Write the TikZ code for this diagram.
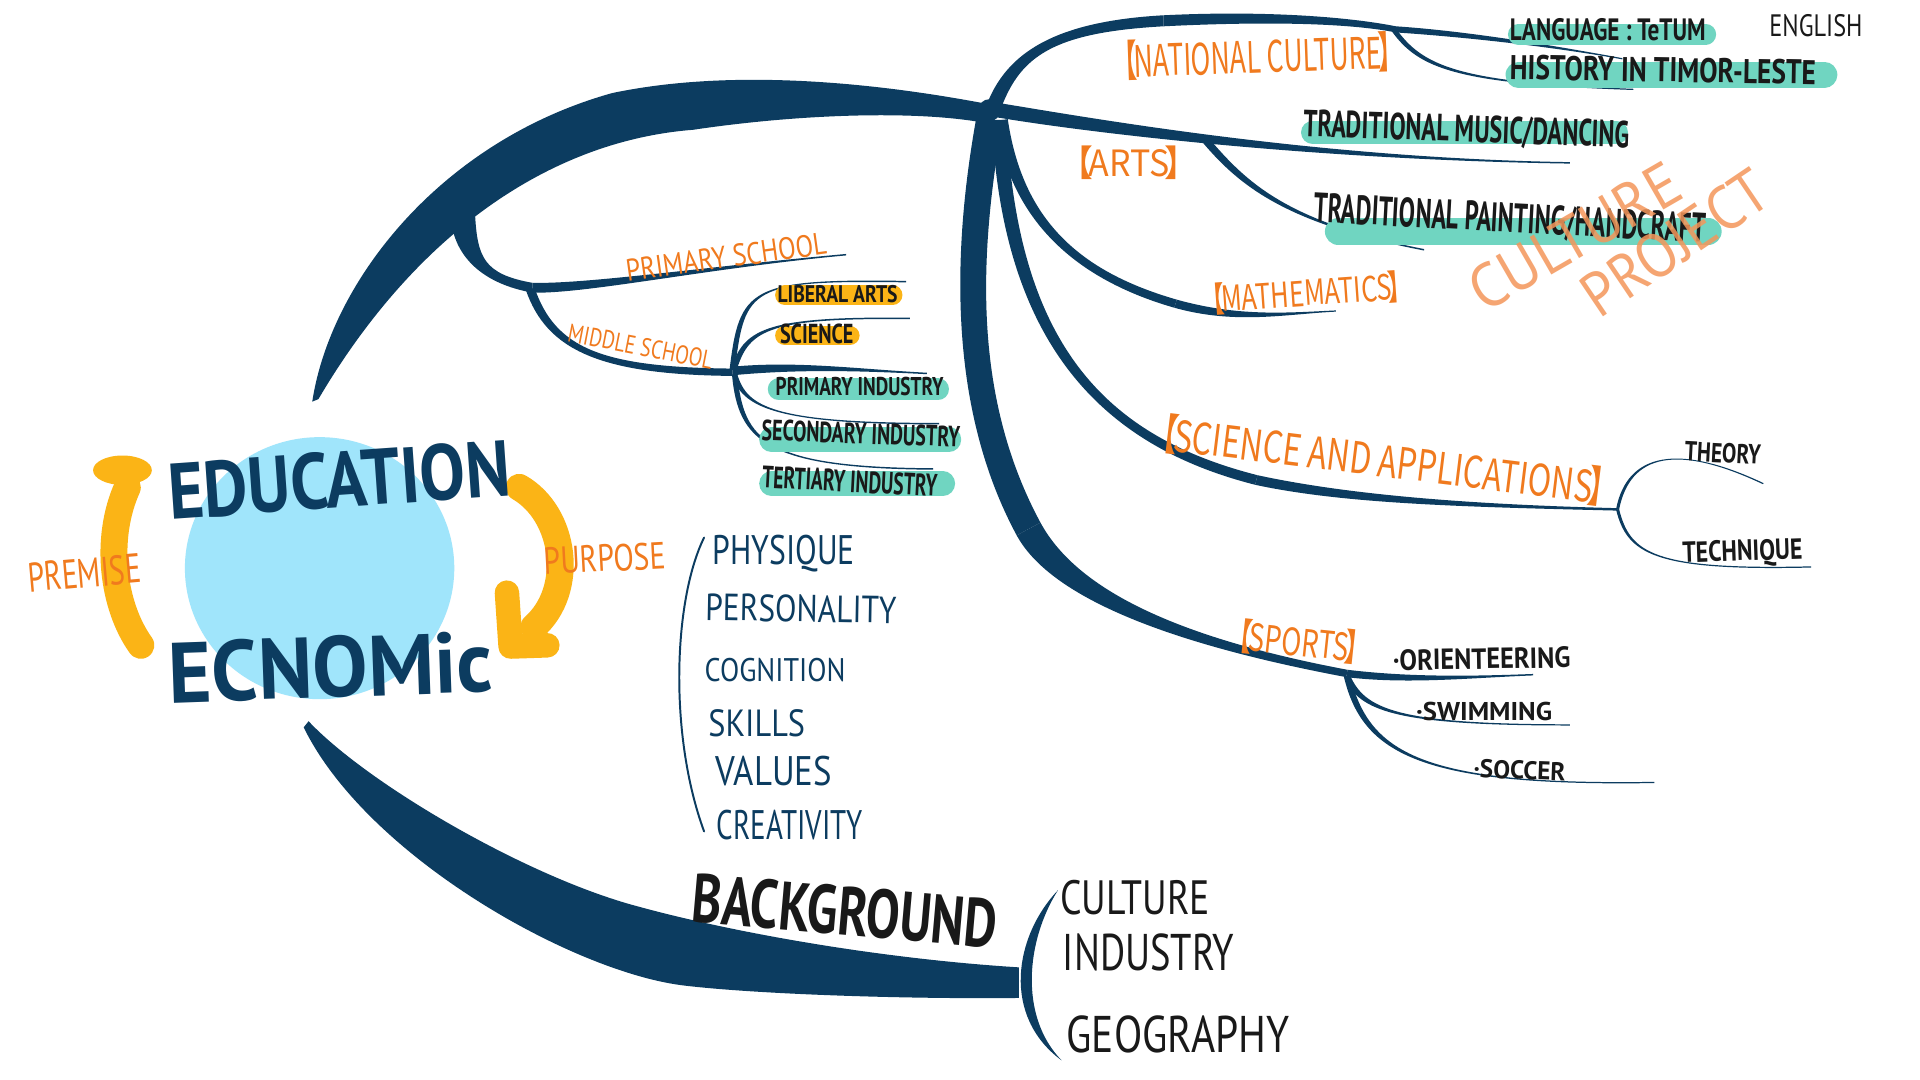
\documentclass[tikz,border=0pt]{standalone}
\usepackage{fontspec}
\setmainfont{PT Sans}
\newfontfamily\cjkf{Noto Sans CJK SC}
\usepackage{graphicx}
\usetikzlibrary{calc}
\definecolor{navyc}{RGB}{12,60,96}
\definecolor{orangec}{RGB}{240,122,30}
\definecolor{amberc}{RGB}{251,180,22}
\definecolor{tealc}{RGB}{112,213,193}
\definecolor{bluec}{RGB}{160,229,251}
\definecolor{inkc}{RGB}{25,25,25}
\definecolor{projc}{RGB}{244,150,90}
\newcommand\fitt[3]{\resizebox{#1pt}{#2pt}{#3}}
\newcommand\band[6]{\fill[navyc] ($#1+#5$) .. controls ($#2+#5$) and ($#3+#6$) .. ($#4+#6$) -- ($#4-#6$) .. controls ($#3-#6$) and ($#2-#5$) .. ($#1-#5$) -- cycle;}
\newcommand\brk[1]{{\cjkf\kern-0.45em【\kern-0.15em#1\kern-0.15em】\kern-0.45em}}
\begin{document}
\begin{tikzpicture}[x=1pt,y=-1pt,
  every node/.style={inner sep=0pt,outer sep=0pt},
  lbl/.style={text=orangec},
  ink/.style={text=inkc},
  nv/.style={text=navyc},
  hlt/.style={draw=tealc,line cap=round},
  hla/.style={draw=amberc,line cap=round},
  thinbr/.style={draw=navyc,line width=1.6pt,line cap=round}]
\fill[white] (0,0) rectangle (1568,882);
\useasboundingbox (0,0) rectangle (1568,882);

% ---------- centre ----------
\fill[bluec] (261,464) ellipse [x radius=110, y radius=107];
\draw[amberc,line width=22pt,line cap=round] (115,527) .. controls (92,495) and (85,440) .. (104,398);
\fill[amberc] (100,384) ellipse [x radius=24, y radius=12];
\draw[amberc,line width=22pt,line cap=round] (424,398) .. controls (462,420) and (470,482) .. (436,512);
\draw[amberc,line width=20pt,line cap=round,line join=round] (414,484) -- (417,528) -- (447,527);

% ---------- big arcs ----------
\fill[navyc] (255,328) .. controls (270,230) and (360,115) .. (500,76) .. controls (600,55) and (720,68) .. (812,86) -- (812,102) .. controls (760,90) and (660,92) .. (566,106) .. controls (450,115) and (340,190) .. (260,326) -- cycle;
\fill[navyc] (252,589) .. controls (300,640) and (430,716) .. (520,740) .. controls (600,762) and (720,783) .. (832,790) -- (832,815) .. controls (740,816) and (620,812) .. (560,805) .. controls (470,795) and (300,700) .. (248,594) -- cycle;
\fill[navyc] (864,727) .. controls (828,765) and (818,830) .. (867,866) .. controls (832,830) and (838,768) .. (864,727) -- cycle;

\coordinate (hub) at (808,90);
\coordinate (ms) at (598,304);

% ---------- education subtree ----------
\band{(378,176)}{(380,210)}{(395,228)}{(435,235)}{(10,0)}{(0,-4)}
\band{(435,235)}{(480,236)}{(580,218)}{(691,208)}{(0,4)}{(0,0.6)}
\band{(433,236)}{(450,285)}{(490,303)}{(598,304)}{(3.5,-1)}{(0,-3)}
\band{(598,302)}{(606,235)}{(612,228)}{(740,230)}{(2.2,0)}{(0,0.6)}
\band{(600,300)}{(610,268)}{(630,259)}{(743,260)}{(2.1,0.7)}{(0,0.6)}
\band{(598,303)}{(650,298)}{(700,302)}{(757,305)}{(0,3.5)}{(0,0.6)}
\band{(600,306)}{(608,332)}{(630,346)}{(767,346)}{(2.2,0)}{(0,-0.6)}
\band{(600,306)}{(605,360)}{(625,382)}{(762,383)}{(2.2,0)}{(0,-0.6)}

% ---------- right subtree ----------
% national culture
\band{(812,86)}{(828,45)}{(860,22)}{(950,17)}{(6,1)}{(0,4.5)}
\band{(950,17)}{(1030,13)}{(1100,16)}{(1140,24)}{(0,4.5)}{(0,2.5)}
\band{(1140,24)}{(1200,28)}{(1270,38)}{(1325,48)}{(0,2.5)}{(0,0.5)}
\band{(1138,24)}{(1160,55)}{(1190,68)}{(1334,73)}{(1.6,-1.2)}{(0,-0.5)}
% arts
\band{(815,90)}{(900,104)}{(1080,130)}{(1282,133)}{(0,6)}{(0,0.6)}
\band{(985,115)}{(1015,150)}{(1050,182)}{(1163,204)}{(2.3,-2)}{(0.1,-0.6)}
% mathematics
\band{(818,98)}{(830,180)}{(880,225)}{(960,248)}{(5,-0.7)}{(1,-3.3)}
\band{(960,248)}{(1010,262)}{(1050,256)}{(1091,254)}{(1,-3.3)}{(0,-0.5)}
% science and applications
\band{(816,100)}{(825,280)}{(900,360)}{(1026,392)}{(6,0)}{(1,-3.9)}
\band{(1026,392)}{(1100,408)}{(1200,413)}{(1321,416)}{(1,-3.9)}{(0,-1)}
\band{(1321,416)}{(1330,370)}{(1370,362)}{(1440,395)}{(1.2,0.3)}{(-0.2,0.45)}
\band{(1321,416)}{(1330,452)}{(1350,466)}{(1479,463)}{(1.2,-0.3)}{(0,-0.5)}
% sports
\band{(808,98)}{(788,210)}{(785,330)}{(840,432)}{(11,0)}{(9.7,-5.2)}
\band{(840,432)}{(865,478)}{(940,520)}{(1100,550)}{(9.7,-5.2)}{(0.5,-3)}
\band{(1100,550)}{(1150,556)}{(1200,553)}{(1252,551)}{(0.5,-3)}{(0,-0.6)}
\band{(1100,552)}{(1112,580)}{(1140,592)}{(1282,592)}{(2.3,-1)}{(0,-0.5)}
\band{(1100,552)}{(1115,615)}{(1160,642)}{(1351,639)}{(2.5,-0.6)}{(0,-0.5)}
\fill[navyc] (hub) circle (9);

% purpose bracket
\draw[thinbr] (575,439) .. controls (550,490) and (546,600) .. (575,679);

% ---------- highlights ----------
\draw[hlt,line width=17pt] (1240,28) -- (1393,28);
\draw[hlt,line width=21pt] (1240,61) -- (1490,61);
\draw[hlt,line width=19pt] (1072,108) -- (1320,108);
\draw[hlt,line width=22pt] (1093,189) -- (1395,189);
\draw[hla,line width=16pt] (641,241) -- (729,241);
\draw[hla,line width=16pt] (641,274) -- (694,274);
\draw[hlt,line width=18pt] (636,318) -- (766,318);
\draw[hlt,line width=20pt] (630,359) -- (775,359);
\draw[hlt,line width=20pt] (630,395) -- (770,395);

% ---------- texts ----------
\node[nv,rotate=4] (edu) at (277,392) {\fitt{280}{46}{\bfseries EDUCATION}};
\node[nv,rotate=2] (eco) at (270,545) {\fitt{265}{50}{\bfseries ECNOMic}};
\node[lbl,rotate=5] (premise) at (69,468) {\fitt{93}{24}{PREMISE}};
\node[lbl,rotate=3] (purpose) at (494,456) {\fitt{100}{22}{PURPOSE}};

\node[nv] (phy) at (640,452) {\fitt{116}{24}{PHYSIQUE}};
\node[nv,rotate=-1] (per) at (654,497) {\fitt{156}{22}{PERSONALITY}};
\node[nv] (cog) at (633,547) {\fitt{115}{19}{COGNITION}};
\node[nv] (ski) at (618,591) {\fitt{79}{22}{SKILLS}};
\node[nv] (val) at (632,630) {\fitt{95}{24}{VALUES}};
\node[nv] (cre) at (645,674) {\fitt{119}{24}{CREATIVITY}};

\node[ink,rotate=-5] (bg) at (690,744) {\fitt{250}{40}{\bfseries BACKGROUND}};
\node[ink] (bgc) at (927,733) {\fitt{122}{28}{CULTURE}};
\node[ink] (bgi) at (938,778) {\fitt{140}{30}{INDUSTRY}};
\node[ink] (bgg) at (962,845) {\fitt{182}{30}{GEOGRAPHY}};

\node[lbl,rotate=8] (prim) at (593,210) {\fitt{165}{18}{PRIMARY SCHOOL}};
\node[lbl,rotate=-11] (mid) at (523,283) {\fitt{120}{15}{MIDDLE SCHOOL}};
\node[ink] (la) at (684,240) {\fitt{98}{14}{\bfseries LIBERAL ARTS}};
\node[ink] (sc) at (667,273) {\fitt{60}{16}{\bfseries SCIENCE}};
\node[ink] (pi) at (702,316) {\fitt{137}{15}{\bfseries PRIMARY INDUSTRY}};
\node[ink,rotate=-2] (si) at (703,354) {\fitt{162}{17}{\bfseries SECONDARY INDUSTRY}};
\node[ink,rotate=-3] (ti) at (694,393) {\fitt{143}{18}{\bfseries TERTIARY INDUSTRY}};

\node[lbl,rotate=2] (natc) at (1027,46) {\fitt{220}{30}{\brk{NATIONAL CULTURE}}};
\node[ink] (lang) at (1313,24) {\fitt{160}{18}{\bfseries LANGUAGE : TeTUM}};
\node[ink] (eng) at (1483,21) {\fitt{76}{18}{ENGLISH}};
\node[ink,rotate=-1] (hist) at (1358,57) {\fitt{250}{20}{\bfseries HISTORY IN TIMOR-LESTE}};
\node[lbl] (arts) at (922,133) {\fitt{88}{25}{\brk{ARTS}}};
\node[ink,rotate=-2] (mus) at (1198,107) {\fitt{266}{22}{\bfseries TRADITIONAL MUSIC/DANCING}};
\node[ink,rotate=-3] (pai) at (1233,180) {\fitt{320}{24}{\bfseries TRADITIONAL PAINTING/HANDCRAFT}};
\node[lbl,rotate=4] (math) at (1067,239) {\fitt{156}{24}{\brk{MATHEMATICS}}};
\node[lbl,rotate=-7] (sci) at (1130,376) {\fitt{365}{30}{\brk{SCIENCE AND APPLICATIONS}}};
\node[ink,rotate=-3] (the) at (1407,370) {\fitt{62}{16}{\bfseries THEORY}};
\node[ink,rotate=2] (tec) at (1423,452) {\fitt{98}{17}{\bfseries TECHNIQUE}};
\node[lbl,rotate=-6] (spo) at (1061,524) {\fitt{100}{26}{\brk{SPORTS}}};
\node[ink,rotate=1] (ori) at (1210,538) {\fitt{145}{17}{\bfseries ·ORIENTEERING}};
\node[ink] (swi) at (1212,581) {\fitt{111}{15}{\bfseries ·SWIMMING}};
\node[ink,rotate=-2] (soc) at (1241,629) {\fitt{75}{15}{\bfseries ·SOCCER}};

\node[text=projc,opacity=0.85,rotate=30] (cul) at (1286,193) {\fitt{190}{36}{CULTURE}};
\node[text=projc,opacity=0.85,rotate=34] (pro) at (1368,198) {\fitt{172}{36}{PROJECT}};
\end{tikzpicture}
\end{document}
